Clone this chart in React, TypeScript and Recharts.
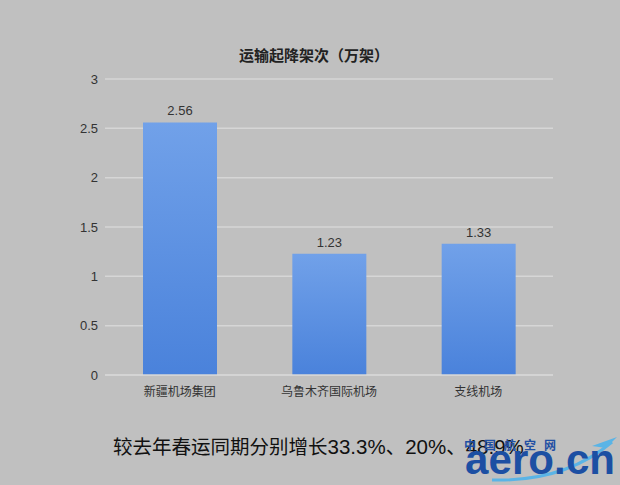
import React from "react";
import { BarChart, Bar, XAxis, YAxis, CartesianGrid, LabelList } from "recharts";

const categories = ["新疆机场集团", "乌鲁木齐国际机场", "支线机场"];
const movements = [2.56, 1.23, 1.33];
const yTicks = [0, 0.5, 1, 1.5, 2, 2.5, 3];

const title = "运输起降架次（万架）";
const footnote = "较去年春运同期分别增长33.3%、20%、48.9%";

const FONT = "'Liberation Sans', 'Noto Sans CJK SC', sans-serif";
const BG = "#c0c0c0";
const GRID = "#d6d6d6";

export default function App() {
  const data = categories.map((name, i) => ({ name, value: movements[i] }));
  // digits in the footnote are set a touch larger than the CJK text
  const footParts = footnote.split(/([0-9.%]+)/);

  return (
    <div style={{ position: "absolute", left: 0, top: 0, width: 620, height: 485, background: BG, fontFamily: FONT, overflow: "hidden" }}>
      <div style={{ position: "absolute", left: 0, width: 628, top: 44, textAlign: "center", fontSize: 15, fontWeight: "bold", color: "#222" }}>
        {title}
      </div>
      <BarChart width={620} height={485} data={data} margin={{ top: 79, right: 67, bottom: 80, left: 0 }}>
        <defs>
          <linearGradient id="barFill" x1="0" y1="0" x2="0" y2="1">
            <stop offset="0%" stopColor="#71a1e9" />
            <stop offset="100%" stopColor="#4a82db" />
          </linearGradient>
        </defs>
        <CartesianGrid vertical={false} stroke={GRID} strokeWidth={1.5} />
        <XAxis
          dataKey="name"
          axisLine={{ stroke: GRID, strokeWidth: 1.5 }}
          tickLine={false}
          tickSize={0}
          tickMargin={12}
          tick={{ fill: "#333", fontSize: 12, fontFamily: FONT }}
          interval={0}
        />
        <YAxis
          width={105}
          domain={[0, 3]}
          ticks={yTicks}
          axisLine={false}
          tickLine={false}
          tickSize={0}
          tickMargin={7}
          tick={{ fill: "#333", fontSize: 13, fontFamily: FONT }}
        />
        <Bar dataKey="value" fill="url(#barFill)" barSize={74} isAnimationActive={false}>
          <LabelList dataKey="value" position="top" offset={7} fill="#333" fontSize={13} fontFamily={FONT} />
        </Bar>
      </BarChart>
      <div style={{ position: "absolute", left: 113, top: 436, fontSize: 19.5, lineHeight: "22px", color: "#111", whiteSpace: "nowrap" }}>
        {footParts.map((p, i) =>
          /[0-9]/.test(p) ? <span key={i} style={{ fontSize: 20.5 }}>{p}</span> : <span key={i}>{p}</span>
        )}
      </div>
      <svg style={{ position: "absolute", left: 0, top: 0 }} width={620} height={485}>
        <path d="M 492 480 Q 565 482 612 442" fill="none" stroke="#5ab4e6" strokeWidth={3} />
        <path d="M 592 446 L 617 437 L 606 448 Z" fill="#5ab4e6" />
        <text x={464} y={450} fontSize={12} fill="#1f4fa3" fontFamily="'Noto Sans CJK SC'" letterSpacing={8} fontWeight="bold">
          中国航空网
        </text>
        <text x={465} y={474} fontSize={42} fill="#1c4fa3" fontFamily="'Liberation Sans'" fontWeight="bold" textLength={150}>
          aero.cn
        </text>
      </svg>
    </div>
  );
}
